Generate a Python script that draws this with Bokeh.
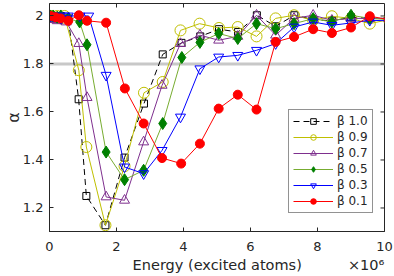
import math
from bokeh.plotting import figure
from bokeh.models import (Range1d, FixedTicker, Span, Legend, LegendItem,
                          CustomJSTickFormatter)
from bokeh.embed import file_html
from bokeh.resources import INLINE

# ---- data (energy in units of 1e6 excited atoms) ----
x_b10 = [0.03, 0.11, 0.23, 0.34, 0.56, 0.87, 1.10, 1.67, 2.24, 2.82, 3.38, 3.94, 4.50, 5.06, 5.63, 6.19, 6.75, 7.31, 7.88, 8.44, 9.00, 9.56, 10.13]
y_b10 = [2.00, 2.00, 1.995, 2.00, 1.99, 1.653, 1.25, 1.128, 1.41, 1.635, 1.84, 1.888, 1.915, 1.945, 1.933, 2.003, 1.957, 2.003, 1.985, 1.98, 1.995, 1.99, 1.99]

x_b09 = [0.03, 0.11, 0.23, 0.34, 0.45, 0.875, 1.10, 1.67, 2.24, 2.82, 3.38, 3.91, 4.48, 5.06, 5.62, 6.18, 6.75, 7.30, 7.87, 8.43, 9.00, 9.56, 10.13]
y_b09 = [2.00, 1.995, 2.00, 1.99, 2.00, 1.774, 1.454, 1.128, 1.374, 1.68, 1.725, 1.94, 1.968, 1.95, 1.954, 1.915, 1.99, 2.003, 1.982, 1.999, 1.99, 1.968, 1.985]

x_b07 = [0.03, 0.11, 0.23, 0.34, 0.50, 0.875, 1.12, 1.69, 2.24, 2.81, 3.36, 3.91, 4.49, 5.05, 5.62, 6.18, 6.75, 7.30, 7.87, 8.43, 9.00, 9.56, 10.13]
y_b07 = [1.99, 1.985, 1.98, 1.99, 1.975, 1.885, 1.66, 1.246, 1.232, 1.475, 1.711, 1.885, 1.92, 1.899, 1.915, 2.003, 1.92, 1.99, 2.003, 1.982, 1.99, 1.99, 1.99]

x_b05 = [0.03, 0.11, 0.23, 0.34, 0.56, 0.90, 1.12, 1.69, 2.24, 2.81, 3.38, 3.95, 4.49, 5.05, 5.62, 6.18, 6.75, 7.30, 7.87, 8.43, 9.00, 9.56, 10.13]
y_b05 = [2.00, 2.00, 1.995, 2.00, 1.99, 1.975, 1.88, 1.433, 1.318, 1.357, 1.552, 1.827, 1.89, 1.927, 1.906, 1.968, 1.947, 1.968, 1.989, 1.975, 2.003, 1.99, 1.985]

x_b03 = [0.03, 0.11, 0.23, 0.34, 0.45, 0.56, 0.90, 1.17, 1.69, 2.24, 2.81, 3.36, 3.91, 4.49, 5.05, 5.62, 6.18, 6.75, 7.30, 7.87, 8.43, 9.00, 9.56, 10.13]
y_b03 = [2.00, 2.00, 2.00, 1.99, 2.00, 2.00, 2.00, 2.00, 1.753, 1.371, 1.343, 1.44, 1.579, 1.78, 1.829, 1.836, 1.857, 1.885, 1.954, 1.975, 1.961, 1.971, 1.982, 1.98]

x_b01 = [0.03, 0.18, 0.33, 0.56, 0.875, 1.12, 1.69, 2.25, 2.81, 3.36, 3.93, 4.49, 5.05, 5.62, 6.18, 6.75, 7.30, 7.87, 8.43, 9.00, 9.56, 10.13]
y_b01 = [2.00, 1.995, 1.99, 1.98, 2.003, 1.98, 1.972, 1.698, 1.552, 1.408, 1.385, 1.468, 1.614, 1.672, 1.61, 1.892, 1.913, 1.945, 1.929, 1.952, 1.999, 1.985]

labels = ["\u03b2 1.0", "\u03b2 0.9", "\u03b2 0.7", "\u03b2 0.5", "\u03b2 0.3", "\u03b2 0.1"]
x_ticks = [0, 2, 4, 6, 8, 10]
y_ticks = [1.2, 1.4, 1.6, 1.8, 2.0]
threshold = 1.8
x_title = "Energy (excited atoms)"
x_scale_note = "\u00d710\u2076"
y_title = "\u03b1"

TXT = "#262626"
FONT = "DejaVu Sans"
NB = "\u00a0"

xr = Range1d(0, 10)
yr = Range1d(1.102, 2.052)
p = figure(frame_width=335, frame_height=228, x_range=xr, y_range=yr,
           output_backend="svg", toolbar_location=None,
           min_border_left=49, min_border_right=9, min_border_top=3, min_border_bottom=44)
p.xgrid.visible = False
p.ygrid.visible = False
p.outline_line_color = TXT
p.outline_line_width = 1

p.add_layout(Span(location=threshold, dimension="width", line_color="#c8c8c8", line_width=3, level="underlay"))

# mirrored inward ticks on top and right edges
p.ray(x=x_ticks, y=[yr.end] * len(x_ticks), length=4, length_units="screen",
      angle=-math.pi / 2, line_color=TXT, line_width=1)
p.ray(x=[xr.end] * len(y_ticks), y=y_ticks, length=4, length_units="screen",
      angle=math.pi, line_color=TXT, line_width=1)

series = [
    (x_b10, y_b10, "black", "black", None, "square", 7, "6 4"),
    (x_b09, y_b09, "#bfbf00", "#bfbf00", None, "circle", 11, "solid"),
    (x_b07, y_b07, "#7e2f8e", "#7e2f8e", None, "triangle", 10, "solid"),
    (x_b05, y_b05, "#77ac30", "#008000", "#008000", "diamond", 12, "solid"),
    (x_b03, y_b03, "#0000ff", "#0000ff", None, "inverted_triangle", 10, "solid"),
    (x_b01, y_b01, "#ff0000", "#ff0000", "#ff0000", "circle", 9, "solid"),
]

items = []
for (xs, ys, lc, mc, fc, mk, sz, dash), lab in zip(series, labels):
    r1 = p.line(xs, ys, line_color=lc, line_width=1, line_dash=dash)
    r2 = p.scatter(xs, ys, marker=mk, size=sz, line_color=mc, fill_color=fc, line_width=1)
    items.append(LegendItem(label=lab, renderers=[r1, r2]))

legend = Legend(items=items, location=(239, 18), glyph_width=40, glyph_height=14,
                label_height=14, spacing=2, padding=4, margin=0, label_standoff=4,
                label_text_font=FONT, label_text_font_size="12px", label_text_color=TXT,
                border_line_color=TXT, border_line_width=1, background_fill_alpha=1)
p.add_layout(legend, "center")

fmt = CustomJSTickFormatter(code="return (Math.round(tick*10)/10).toString();")

for ax in [p.xaxis[0], p.yaxis[0]]:
    ax.major_tick_in = 4
    ax.major_tick_out = 0
    ax.minor_tick_line_color = None
    ax.axis_line_color = TXT
    ax.major_tick_line_color = TXT
    ax.major_label_text_font = FONT
    ax.major_label_text_font_size = "13px"
    ax.major_label_text_color = TXT
    ax.axis_label_text_font = FONT
    ax.axis_label_text_color = TXT
    ax.axis_label_text_font_style = "normal"

p.xaxis[0].ticker = FixedTicker(ticks=x_ticks)
p.yaxis[0].ticker = FixedTicker(ticks=y_ticks)
p.yaxis[0].formatter = fmt
p.xaxis[0].major_label_standoff = 10
p.yaxis[0].major_label_standoff = 6

# x label centred on the frame, with the x10^6 multiplier at the right end
p.xaxis[0].axis_label = NB * 18 + x_title + NB * 10 + x_scale_note
p.xaxis[0].axis_label_text_font_size = "14.5px"
p.xaxis[0].axis_label_standoff = 3

p.yaxis[0].axis_label = y_title
p.yaxis[0].axis_label_text_font_size = "16px"
p.yaxis[0].axis_label_standoff = -3

open("out.html", "w").write(file_html(p, INLINE))
